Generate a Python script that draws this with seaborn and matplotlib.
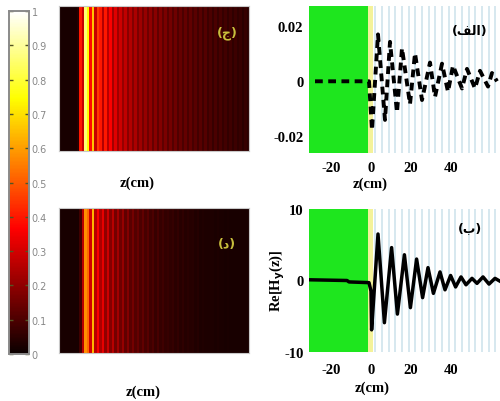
import numpy as np
import matplotlib
matplotlib.use("Agg")
import matplotlib.pyplot as plt
import seaborn as sns

# ---- intensity profiles along z (one value per 2.5 px stripe of the map) ----
intensity_c = [0.02, 0.02, 0.02, 0.02, 0.02, 0.02, 0.02, 0.04,
               0.40, 0.28, 0.86, 0.74, 0.38, 0.66, 0.28, 0.45,
               0.40, 0.25, 0.40, 0.26, 0.36, 0.23, 0.32, 0.22,
               0.29, 0.21, 0.27, 0.19, 0.25, 0.18, 0.24, 0.17,
               0.22, 0.16, 0.21, 0.15, 0.20, 0.14, 0.19, 0.13,
               0.18, 0.125, 0.17, 0.12, 0.16, 0.11, 0.15, 0.105,
               0.14, 0.10, 0.135, 0.095, 0.13, 0.09, 0.12, 0.085,
               0.115, 0.08, 0.11, 0.075, 0.10, 0.07, 0.095, 0.068,
               0.09, 0.065, 0.085, 0.06, 0.08, 0.058, 0.075, 0.055,
               0.07, 0.05, 0.065, 0.05]

intensity_d = [0.02, 0.02, 0.02, 0.02, 0.02, 0.02, 0.02, 0.02,
               0.08, 0.26, 0.58, 0.52, 0.30, 0.64, 0.26, 0.36,
               0.24, 0.33, 0.20, 0.29, 0.18, 0.26, 0.16, 0.23,
               0.15, 0.21, 0.13, 0.18, 0.12, 0.16, 0.11, 0.14,
               0.10, 0.13, 0.09, 0.115, 0.08, 0.10, 0.07, 0.09,
               0.065, 0.08, 0.06, 0.07, 0.055, 0.065, 0.05, 0.06,
               0.045, 0.055, 0.04, 0.05, 0.04, 0.045, 0.035, 0.04,
               0.03, 0.035, 0.03, 0.03, 0.03, 0.03, 0.025, 0.03,
               0.025, 0.025, 0.02, 0.025, 0.02, 0.02, 0.02, 0.02,
               0.02, 0.02, 0.02, 0.02]

# ---- field curves (z in cm) ----
z_alef = [-28, -1, 0.5, 3.5, 7, 9.5, 13, 15.5, 19.5, 22, 25.5, 29.5, 32,
          35.5, 38.5, 41, 45.5, 48, 52, 54.5, 58.5, 60.5, 63]
v_alef = [0.0, 0.0, -0.0177, 0.017, -0.014, 0.0143, -0.0113, 0.012,
          -0.0083, 0.0102, -0.0068, 0.0068, -0.0057, 0.0064, -0.0038,
          0.0057, -0.0026, 0.0045, -0.0026, 0.0038, -0.0019, 0.003, 0.0]

z_be = [-31, -12, -11, -1, 0, 0.3, 3.5, 6.7, 10.3, 13.2, 16.7, 19.7, 22.8,
        25.8, 28.5, 31.2, 34.5, 37, 39.8, 42.3, 45, 47.5, 50.5, 53, 56,
        59, 62, 64.5]
v_be = [0.1, 0.0, -0.2, -0.3, -1.5, -6.9, 6.5, -5.9, 4.6, -4.7, 3.6, -3.8,
        3.0, -2.4, 1.8, -1.8, 1.2, -1.3, 0.7, -0.9, 0.5, -0.6, 0.3, -0.4,
        0.5, -0.5, 0.3, -0.1]

# layer boundaries of the structure (cm)
layers = [2, 5.5, 9, 12, 15.5, 19, 22, 25.5, 29, 32, 35.5, 39, 42, 45.5,
          49, 52, 55.5, 59, 62]

z_ticks = [-20, 0, 20, 40]
alef_ticks = [-0.02, 0, 0.02]
alef_ticklabels = ["-0.02", "0", "0.02"]
be_ticks = [-10, 0, 10]
cbar_ticks = [0, 0.1, 0.2, 0.3, 0.4, 0.5, 0.6, 0.7, 0.8, 0.9, 1]
cbar_ticklabels = ["0", "0.1", "0.2", "0.3", "0.4", "0.5", "0.6", "0.7",
                   "0.8", "0.9", "1"]

W, H = 500, 402
fig = plt.figure(figsize=(W / 100, H / 100), dpi=100)


def box(x0, y0, x1, y1):
    return [x0 / W, 1 - y1 / H, (x1 - x0) / W, (y1 - y0) / H]


serif = "Liberation Serif"
label_kw = dict(fontfamily=serif, fontweight="bold", fontsize=10.5)

cax = fig.add_axes(box(9, 12, 29, 355))
ax_c = fig.add_axes(box(59, 7, 249, 152))
ax_d = fig.add_axes(box(59, 209, 249, 354))
ax_a = fig.add_axes(box(309, 7, 500, 154))
ax_b = fig.add_axes(box(309, 210, 500, 353))

# ---- intensity maps ----
for ax, prof, first in [(ax_c, intensity_c, True), (ax_d, intensity_d, False)]:
    data = np.array([prof, prof])
    if first:
        sns.heatmap(data, ax=ax, cmap="hot", vmin=0, vmax=1, cbar=True,
                    cbar_ax=cax, xticklabels=False, yticklabels=False)
    else:
        sns.heatmap(data, ax=ax, cmap="hot", vmin=0, vmax=1, cbar=False,
                    xticklabels=False, yticklabels=False)
    ax.tick_params(length=0)
    for s in ax.spines.values():
        s.set_visible(True)
        s.set_color("#c8c8c8")
        s.set_linewidth(0.8)

cax.set_yticks(cbar_ticks)
cax.set_yticklabels(cbar_ticklabels)
cax.tick_params(axis="y", direction="in", length=3, width=1, left=True,
                right=True, color="#555522", labelcolor="#888888",
                labelsize=7, pad=2)
for s in cax.spines.values():
    s.set_visible(True)
    s.set_color("#8a8a8a")
    s.set_linewidth(1.2)

fig.text(0.454, 1 - 33 / H, "(ج)", color="#c8be3c", fontsize=9,
         fontweight="bold", ha="center", va="center", family="DejaVu Sans")
fig.text(0.454, 1 - 245 / H, "(د)", color="#c8be3c", fontsize=9,
         fontweight="bold", ha="center", va="center", family="DejaVu Sans")
fig.text(137 / W, 1 - 183 / H, "z(cm)", ha="center", va="center", **label_kw)
fig.text(143 / W, 1 - 392 / H, "z(cm)", ha="center", va="center", **label_kw)

# ---- field profiles ----
xlim = (-31, 64.5)
for ax in (ax_a, ax_b):
    ax.set_xlim(*xlim)
    ax.axvspan(xlim[0], -1.3, color="#1ee61e", lw=0, zorder=0)
    ax.axvspan(-1.3, 0.8, color="#f4f29a", lw=0, zorder=0)
    for zl in layers:
        ax.axvline(zl, color="#d3e6ee", lw=1.3, zorder=0.5)
    for s in ax.spines.values():
        s.set_visible(False)
    ax.set_facecolor("white")
    ax.set_xticks(z_ticks)
    ax.set_xticklabels([str(t) for t in z_ticks])

sns.lineplot(x=z_alef, y=v_alef, ax=ax_a, color="black", lw=2.8,
             linestyle=(0, (2.0, 1.4)), estimator=None, sort=False)
ax_a.set_ylim(-0.026, 0.0273)
ax_a.set_yticks(alef_ticks)
ax_a.set_yticklabels(alef_ticklabels)

sns.lineplot(x=z_be, y=v_be, ax=ax_b, color="black", lw=2.5,
             estimator=None, sort=False)
ax_b.set_ylim(-10, 10)
ax_b.set_yticks(be_ticks)
ax_b.set_yticklabels([str(t) for t in be_ticks])

for ax, xpad in [(ax_a, 6), (ax_b, 8)]:
    ax.set_xlabel("")
    ax.set_ylabel("")
    ax.tick_params(axis="x", length=0, pad=xpad)
    ax.tick_params(axis="y", length=0, pad=4)
    for lab in ax.get_xticklabels() + ax.get_yticklabels():
        lab.set_fontfamily(serif)
        lab.set_fontweight("bold")
        lab.set_fontsize(10.5)

fig.text(370 / W, 1 - 184 / H, "z(cm)", ha="center", va="center", **label_kw)
fig.text(372 / W, 1 - 388 / H, "z(cm)", ha="center", va="center", **label_kw)
fig.text(277 / W, 1 - 281 / H, r"Re[H$_\mathbf{y}$(z)]", rotation=90,
         ha="center", va="center", **label_kw)

# Arabic panel tags (letters in their joined presentation forms)
fig.text(470 / W, 1 - 31 / H, "(\uFED2\uFEDF\uFE8D)", ha="center",
         va="center", fontsize=9, fontweight="bold", family="DejaVu Sans")
fig.text(470 / W, 1 - 229 / H, "(ب)", ha="center", va="center",
         fontsize=9, fontweight="bold", family="DejaVu Sans")

fig.savefig("out.png", dpi=100)
